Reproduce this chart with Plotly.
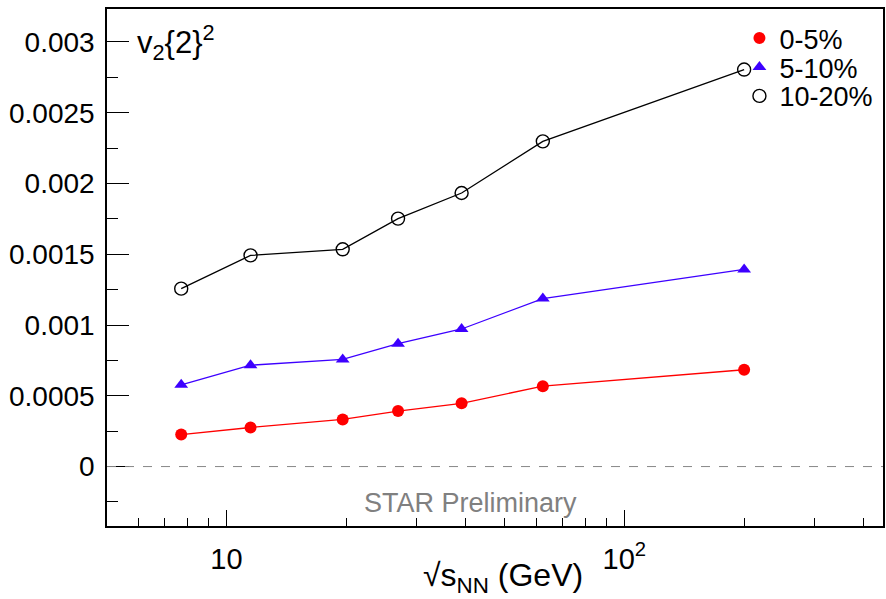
import plotly.graph_objects as go

energies = [7.7, 11.5, 19.6, 27, 39, 62.4, 200]
v2_0_5 = [0.000226, 0.000276, 0.000333, 0.000392, 0.000447, 0.000568, 0.000684]
v2_5_10 = [0.000578, 0.000716, 0.000757, 0.000868, 0.000972, 0.001187, 0.001393]
v2_10_20 = [0.001257, 0.001492, 0.001535, 0.001752, 0.001933, 0.002298, 0.002805]
series_names = ["0-5%", "5-10%", "10-20%"]

ytick_vals = [0, 0.0005, 0.001, 0.0015, 0.002, 0.0025, 0.003]
ytick_text = ["0", "0.0005", "0.001", "0.0015", "0.002", "0.0025", "0.003"]
xtick_vals = [10, 100]
xtick_text = ["10", "10<sup>2</sup>"]
xminor_vals = [6, 7, 8, 9, 20, 30, 40, 50, 60, 70, 80, 90, 200, 300, 400]

FONT = "Liberation Sans, Arial, Helvetica, sans-serif"

styles = [
    dict(color="#ff0000", symbol="circle", size=12, mline=0),
    dict(color="#3d00ff", symbol="triangle-up", size=12, mline=0),
    dict(color="#000000", symbol="circle-open", size=13, mline=1.4),
]
series = [v2_0_5, v2_5_10, v2_10_20]
legend_ids = ["legend", "legend2", "legend3"]
legend_rows_y = [0.943, 0.887, 0.831]

fig = go.Figure()
for name, vals, st in zip(series_names, series, styles):
    fig.add_trace(go.Scatter(
        x=energies, y=vals, name=name, mode="lines+markers", showlegend=False,
        line=dict(color=st["color"], width=1.3),
        marker=dict(symbol=st["symbol"], size=st["size"], color=st["color"],
                    line=dict(width=st["mline"], color=st["color"])),
    ))
for name, st, lid in zip(series_names, styles, legend_ids):
    # legend-only entries (marker only, like the reference legend)
    fig.add_trace(go.Scatter(
        x=[None], y=[None], name=name, mode="markers", showlegend=True, legend=lid,
        marker=dict(symbol=st["symbol"], size=st["size"], color=st["color"],
                    line=dict(width=st["mline"], color=st["color"])),
    ))

fig.add_hline(y=0, line=dict(color="#888888", width=1, dash="dash"))

legend_common = dict(x=0.815, xanchor="left", yanchor="middle",
                     bgcolor="rgba(0,0,0,0)", font=dict(size=27, family=FONT),
                     itemwidth=30, borderwidth=0)

fig.update_layout(
    width=886, height=599,
    margin=dict(l=107, r=1, t=9, b=73),
    paper_bgcolor="white", plot_bgcolor="white",
    font=dict(family=FONT, color="black"),
    showlegend=True,
    legend=dict(y=legend_rows_y[0], **legend_common),
    legend2=dict(y=legend_rows_y[1], **legend_common),
    legend3=dict(y=legend_rows_y[2], **legend_common),
    xaxis=dict(
        type="log", range=[0.7, 2.65],
        showgrid=False, zeroline=False,
        showline=True, linecolor="black", linewidth=1.5, mirror=True,
        ticks="inside", ticklen=16, tickwidth=1.3, tickcolor="black",
        tickmode="array", tickvals=xtick_vals, ticktext=xtick_text,
        tickfont=dict(size=29, family=FONT),
        ticklabelstandoff=6,
        minor=dict(tickmode="array", tickvals=xminor_vals, ticks="inside",
                   ticklen=8, tickwidth=1.3, tickcolor="black", showgrid=False),
    ),
    yaxis=dict(
        range=[-0.00042, 0.003233],
        showgrid=False, zeroline=False,
        showline=True, linecolor="black", linewidth=1.5, mirror=True,
        ticks="inside", ticklen=22, tickwidth=1.3, tickcolor="black",
        tickmode="array", tickvals=ytick_vals, ticktext=ytick_text,
        tickfont=dict(size=28, family=FONT),
        ticklabelstandoff=5,
        minor=dict(dtick=0.00025, tick0=0, ticks="inside", ticklen=11,
                   tickwidth=1.3, tickcolor="black", showgrid=False),
    ),
    annotations=[
        dict(text="v<sub>2</sub>{2}<sup>2</sup>", xref="paper", yref="paper",
             x=0.036, y=0.935, xanchor="left", yanchor="middle", showarrow=False,
             font=dict(size=31, family=FONT, color="black")),
        dict(text="STAR Preliminary", xref="paper", yref="paper",
             x=0.469, y=0.044, xanchor="center", yanchor="middle", showarrow=False,
             font=dict(size=27, family=FONT, color="#808080")),
        dict(text="√s<sub>NN</sub> (GeV)", xref="paper", yref="paper",
             x=0.51, y=-0.10, xanchor="center", yanchor="middle", showarrow=False,
             font=dict(size=32, family=FONT, color="black")),
    ],
)

fig.write_html("out.html")
